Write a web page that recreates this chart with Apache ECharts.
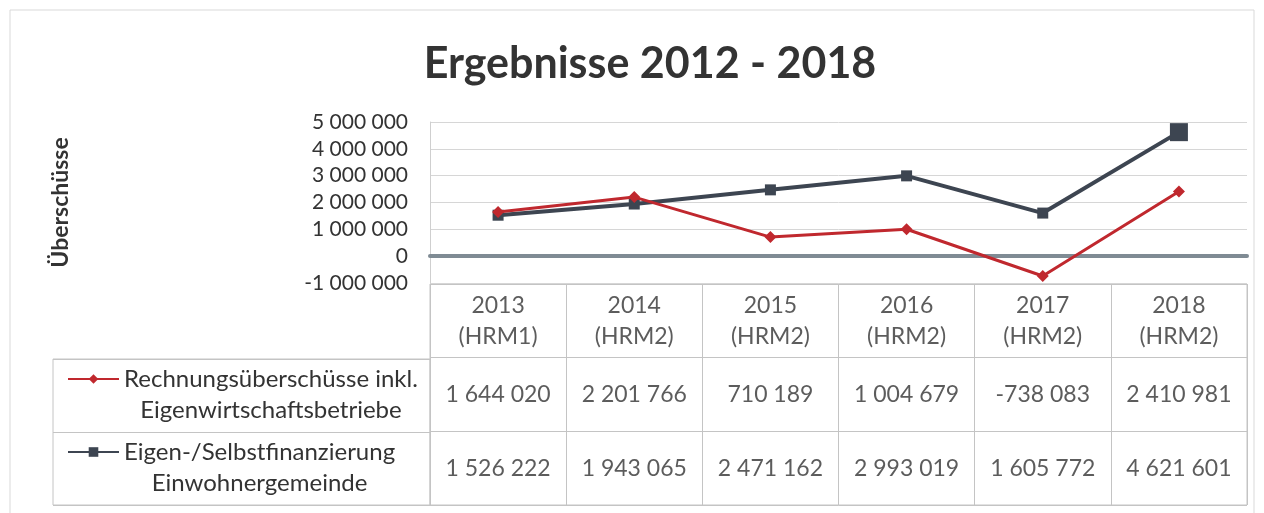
<!DOCTYPE html>
<html>
<head>
<meta charset="utf-8">
<script src="https://cdn.jsdelivr.net/npm/echarts@6/dist/echarts.min.js"></script>
<style>
    html, body { margin: 0; padding: 0; background: #fff; }
    #chart { width: 1264px; height: 513px; }
</style>
</head>
<body>
<div id="chart"></div>
<script>
// Data
var years = ['2013', '2014', '2015', '2016', '2017', '2018'];
var methods = ['HRM1', 'HRM2', 'HRM2', 'HRM2', 'HRM2', 'HRM2'];
var surplus = [1644020, 2201766, 710189, 1004679, -738083, 2410981];
var selfFinancing = [1526222, 1943065, 2471162, 2993019, 1605772, 4621601];
var surplusName = ['Rechnungsüberschüsse inkl.', 'Eigenwirtschaftsbetriebe'];
var selfName = ['Eigen-/Selbstfinanzierung', 'Einwohnergemeinde'];
var yTicks = { min: -1000000, max: 5000000, step: 1000000 };

var FONT = 'Lato';
var TEXT = '#333';
var RED = '#c0282e';
var GRAY = '#3d4551';
var CELL = '#c4c4c4';

function fmt(v) {
    var s = String(Math.abs(v)).replace(/\B(?=(\d{3})+(?!\d))/g, ' ');
    return (v < 0 ? '-' : '') + s;
}

// table cells: header row, then one row per series
var cells = [];
years.forEach(function(y, i) {
    cells.push({ value: [i, 0], text: y + '\n(' + methods[i] + ')' });
    cells.push({ value: [i, 1], text: fmt(surplus[i]) });
    cells.push({ value: [i, 2], text: fmt(selfFinancing[i]) });
});

var selfData = selfFinancing.map(function(v, i) {
    return i === selfFinancing.length - 1 ? { value: v, symbolSize: 18 } : v;
});

function legendLabel(parts) {
    return function() {
        return '{c|' + parts[0] + '}\n{c|' + parts[1] + '}';
    };
}

var legendText = {
    fontFamily: FONT,
    fontSize: 24,
    color: TEXT,
    padding: [31, 0, 0, 0],
    rich: { c: { align: 'center', fontFamily: FONT, fontSize: 24, lineHeight: 31, color: TEXT } }
};

var myChart = echarts.init(document.getElementById('chart'));

var option = {
    animation: false,
    title: {
        text: 'Ergebnisse 2012 - 2018',
        left: 645,
        textAlign: 'center',
        top: 38,
        textStyle: { fontFamily: FONT, fontSize: 43, fontWeight: 'bold', color: '#333' }
    },
    legend: [
        {
            data: [surplusName.join(' ')],
            left: 62, top: 362,
            itemWidth: 51, itemHeight: 12,
            formatter: legendLabel(surplusName),
            textStyle: legendText,
            selectedMode: false
        },
        {
            data: [selfName.join(' ')],
            left: 62, top: 435,
            itemWidth: 51, itemHeight: 12,
            formatter: legendLabel(selfName),
            textStyle: legendText,
            selectedMode: false
        }
    ],
    grid: [
        { left: 430, top: 122, width: 817, height: 161 },
        { left: 430, top: 284, width: 817, height: 221, show: true, borderColor: CELL, borderWidth: 1 },
        { left: 53, top: 359, width: 377, height: 146, show: true, borderColor: CELL, borderWidth: 1 }
    ],
    xAxis: [
        {
            gridIndex: 0, type: 'category', data: years, boundaryGap: true,
            axisLine: { onZero: true, lineStyle: { color: '#7f8b94', width: 4 } },
            axisTick: { show: false }, axisLabel: { show: false }
        },
        {
            gridIndex: 1, type: 'category', data: years, boundaryGap: true,
            axisLine: { show: false }, axisTick: { show: false }, axisLabel: { show: false },
            splitLine: { show: true, lineStyle: { color: CELL } }
        },
        {
            gridIndex: 2, type: 'category', data: [''], show: false
        }
    ],
    yAxis: [
        {
            gridIndex: 0, type: 'value',
            min: yTicks.min, max: yTicks.max, interval: yTicks.step,
            name: 'Überschüsse', nameLocation: 'middle', nameRotate: 90, nameGap: 358,
            nameTextStyle: { fontFamily: FONT, fontSize: 23, fontWeight: 'bold', color: TEXT },
            axisLine: { show: true, lineStyle: { color: '#cfcfcf' } },
            axisTick: { show: false },
            axisLabel: { fontFamily: FONT, fontSize: 21, color: TEXT, margin: 22, formatter: fmt },
            splitLine: { lineStyle: { color: '#d6d6d6' } }
        },
        {
            gridIndex: 1, type: 'category', data: ['head', 'r1', 'r2'], inverse: true,
            axisLine: { show: false }, axisTick: { show: false }, axisLabel: { show: false },
            splitLine: { show: true, lineStyle: { color: CELL } }
        },
        {
            gridIndex: 2, type: 'category', data: ['r1', 'r2'], inverse: true,
            axisLine: { show: false }, axisTick: { show: false }, axisLabel: { show: false },
            splitLine: { show: true, lineStyle: { color: CELL } }
        }
    ],
    series: [
        {
            name: surplusName.join(' '),
            type: 'line',
            xAxisIndex: 0, yAxisIndex: 0,
            data: surplus,
            symbol: 'diamond', symbolSize: 12,
            lineStyle: { color: RED, width: 3 },
            itemStyle: { color: RED },
            z: 3
        },
        {
            name: selfName.join(' '),
            type: 'line',
            xAxisIndex: 0, yAxisIndex: 0,
            data: selfData,
            symbol: 'rect', symbolSize: 11,
            lineStyle: { color: GRAY, width: 4 },
            itemStyle: { color: GRAY },
            z: 2
        },
        {
            name: 'table',
            type: 'scatter',
            xAxisIndex: 1, yAxisIndex: 1,
            data: cells,
            symbolSize: 1,
            itemStyle: { color: 'rgba(0,0,0,0)' },
            silent: true,
            label: {
                show: true, position: 'inside',
                fontFamily: FONT, fontSize: 23, lineHeight: 31, color: TEXT,
                formatter: function(p) { return p.data.text; }
            }
        }
    ],
    graphic: [
        {
            type: 'rect', silent: true,
            shape: { x: 10, y: 10, width: 1244, height: 510 },
            style: { fill: 'none', stroke: '#d9d9d9', lineWidth: 1 }
        }
    ]
};

myChart.setOption(option);
</script>
</body>
</html>
